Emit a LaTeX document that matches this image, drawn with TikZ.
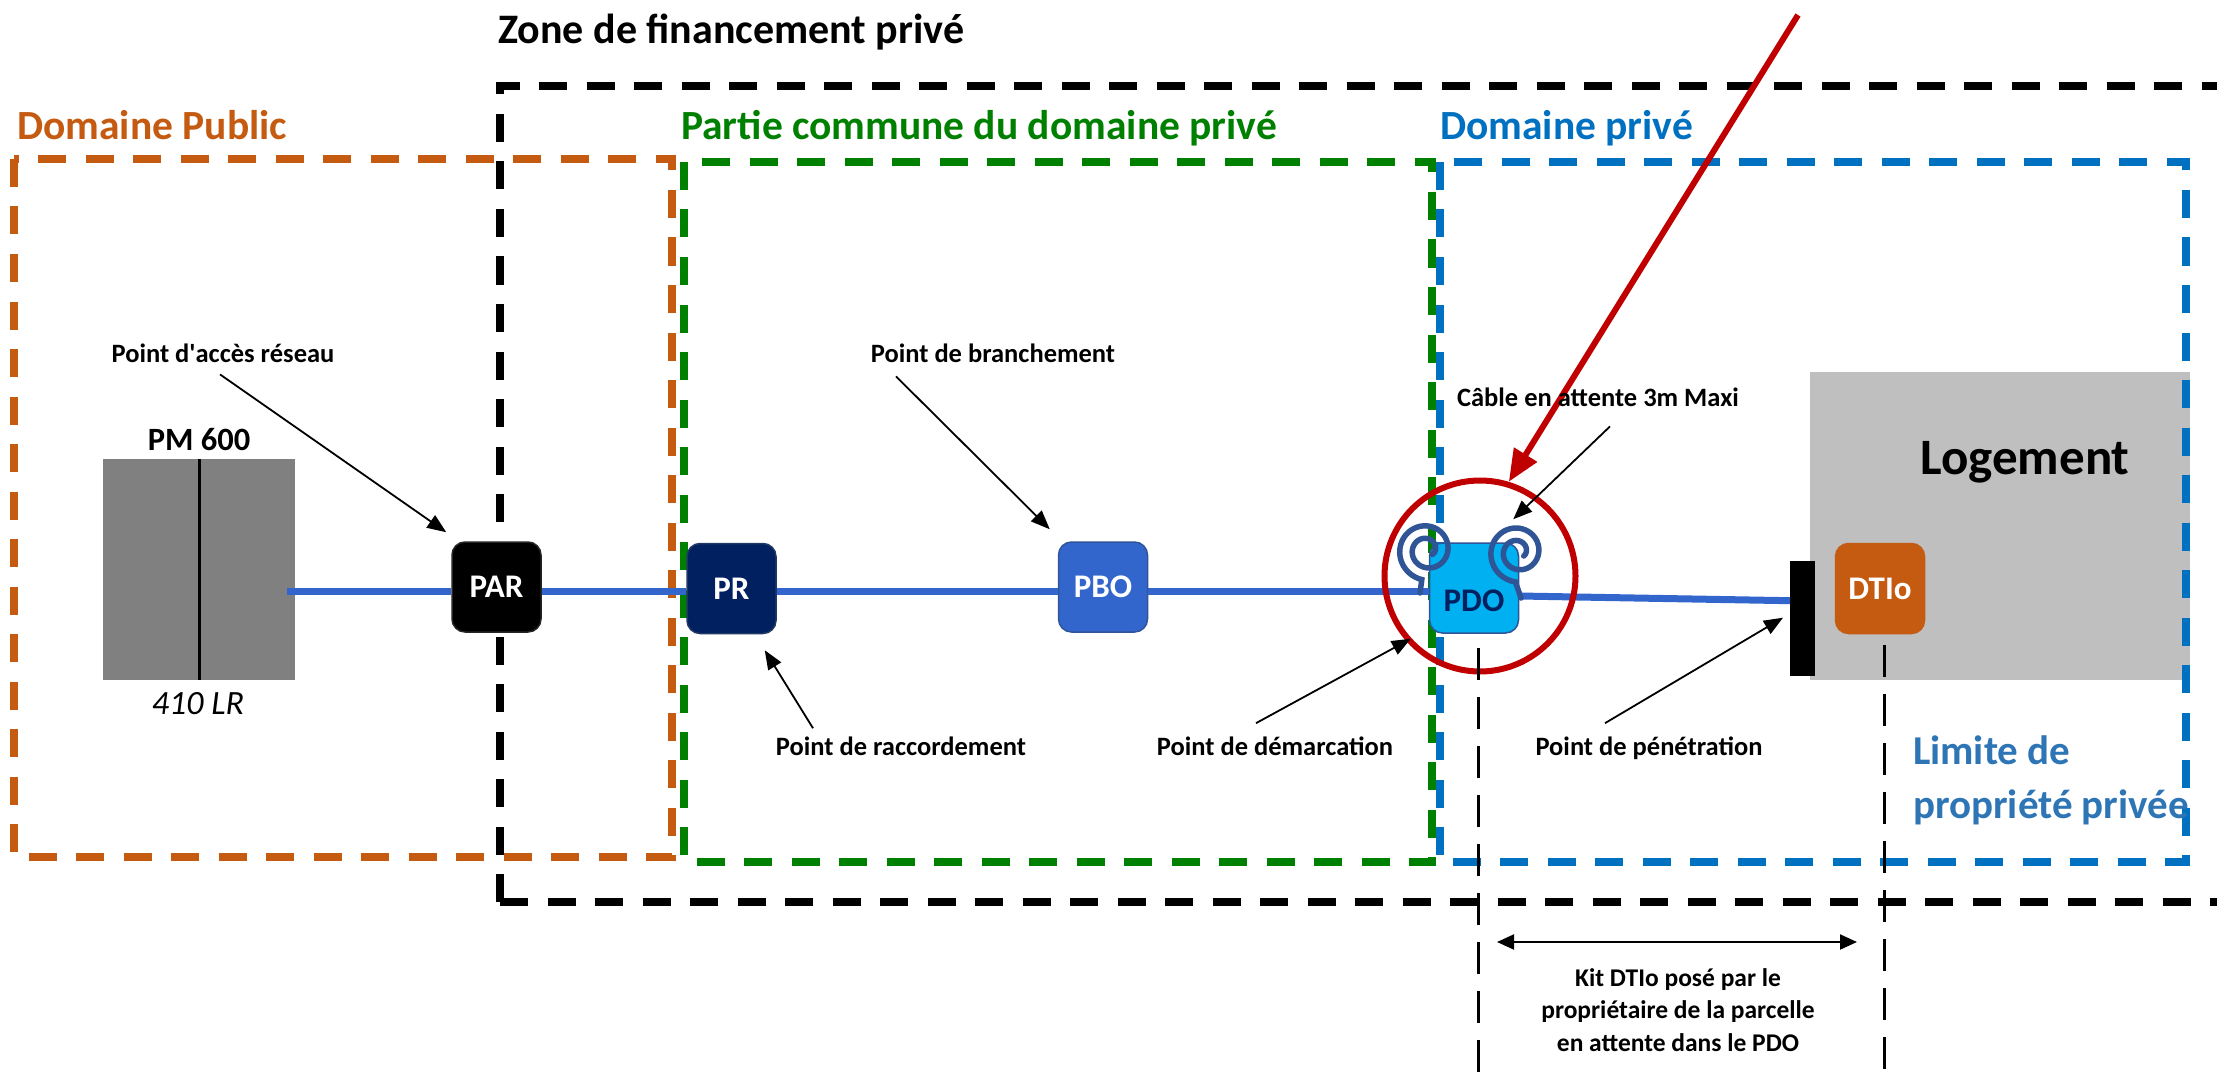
\documentclass[tikz,border=0pt]{standalone}
\usepackage{fontspec}
\setmainfont{Carlito}
\usetikzlibrary{arrows.meta,calc}
\definecolor{orangeC}{HTML}{C55A11}
\definecolor{greenC}{HTML}{008000}
\definecolor{blueC}{HTML}{0070C0}
\definecolor{fiber}{HTML}{3366CC}
\definecolor{navy}{HTML}{002060}
\definecolor{navyd}{HTML}{1F3864}
\definecolor{pdoC}{HTML}{00B0F0}
\definecolor{coil}{HTML}{2F5597}
\definecolor{redC}{HTML}{C00000}
\definecolor{pmgray}{HTML}{808080}
\definecolor{loggray}{HTML}{BFBFBF}
\definecolor{limblue}{HTML}{2E75B6}
\definecolor{dtioC}{HTML}{C55A11}
\newcommand\fsz[2]{\fontsize{#1pt}{#2pt}\selectfont}
\begin{document}
\begin{tikzpicture}[x=1pt,y=-1pt,
  zone/.style={line width=8pt, dash pattern=on 28pt off 19.5pt},
  lbl/.style={font=\fsz{26.5}{31}\bfseries, inner sep=0pt, anchor=base},
  big/.style={font=\fsz{42}{50}\bfseries, inner sep=0pt, anchor=base west},
  zlab/.style={font=\fsz{41.5}{48}\bfseries, inner sep=0pt, anchor=base west},
  tag/.style={rounded corners=13pt, minimum width=89pt, minimum height=90pt, inner sep=0pt, text=white, font=\fsz{33}{38}\bfseries, line width=1.5pt},
  ptr/.style={line width=1.8pt, -{Triangle[length=19pt,width=15pt]}},
  fib/.style={draw=fiber, line width=7pt},
  vdash/.style={line width=3pt, dash pattern=on 32pt off 17pt},
  coilstyle/.style={draw=coil, line width=5.5pt, line cap=round}]
\useasboundingbox (0,0) rectangle (2217,1078);
\clip (0,0) rectangle (2217,1078);
\fill[white] (0,0) rectangle (2217,1078);

% Logement block (under the zones)
\node[fill=loggray, minimum width=380pt, minimum height=308pt, inner sep=0pt, anchor=north west] (logement) at (1810,372) {};
\node[font=\fsz{51}{60}\bfseries, inner sep=0pt, anchor=base] (logtxt) at (2025,474) {Logement};

% zones
\draw[zone, orangeC] (14,159) rectangle (672,857);
\draw[zone, greenC] (684,162) rectangle (1432,862);
\draw[zone, blueC] (1440,162) rectangle (2186,862);
\draw[zone, black] (500,902) -- (500,86) -- (2240,86);
\draw[zone, black] (500,902) -- (2240,902);

% zone titles
\node[big] (ztitle) at (498,44) {Zone de financement privé};
\node[zlab, text=orangeC] (dpub) at (17,140) {Domaine Public};
\node[zlab, text=greenC] (pcom) at (681,140) {Partie commune du domaine privé};
\node[zlab, text=blueC] (dpriv) at (1440,140) {Domaine privé};

% PM
\node[fill=pmgray, minimum width=192pt, minimum height=221pt, inner sep=0pt, anchor=north west] (pm) at (103,459) {};
\draw[line width=3pt] (pm.north) -- (pm.south);
\node[font=\fsz{32.5}{38}\bfseries, inner sep=0pt, anchor=base] (pmlabel) at (199,450) {PM 600};
\node[font=\fsz{34}{40}\itshape, inner sep=0pt, anchor=base] (lr) at (198,714) {410 LR};

% boxes
\node[tag, fill=black, draw=black!85] (par) at (496.5,587) {PAR};
\node[tag, fill=navy, draw=navyd] (pr) at (731.5,588.5) {PR};
\node[tag, fill=fiber, draw=coil] (pbo) at (1103,587) {PBO};
\node[tag, fill=pdoC, draw=coil] (pdo) at (1474,588) {};
\node[font=\fsz{33}{38}\bfseries, text=navy, inner sep=0pt] (pdotxt) at (1474,601) {PDO};
\node[tag, fill=dtioC, draw=dtioC] (dtio) at (1880,588.5) {DTIo};
\node[fill=black, minimum width=25pt, minimum height=115pt, inner sep=0pt, anchor=north west] (bar) at (1790,561) {};

% fibre
\coordinate (fstart) at (287,591);
\draw[fib] (fstart) -- (fstart -| par.west);
\draw[fib] (par.east |- fstart) -- (pr.west |- fstart);
\draw[fib] (pr.east |- fstart) -- (pbo.west |- fstart);
\draw[fib] (pbo.east |- fstart) -- (pdo.west |- fstart);
\draw[fib] ($(pdo.east)+(0,8)$) -- ($(bar.west)+(0,-18)$);

% coils
\draw[coilstyle] (1420,593) -- plot[domain=100:760, samples=160, smooth, variable=\t]
  ({1427+(30-23*(\t-100)/660)*cos(\t)}, {550+(30-23*(\t-100)/660)*sin(\t)});
\draw[coilstyle] (1521,598) -- plot[domain=95:755, samples=160, smooth, variable=\t]
  ({1518+(30-23*(\t-95)/660)*cos(\t)}, {552+(30-23*(\t-95)/660)*sin(\t)});

% red ring and arrow
\node[circle, draw=redC, line width=6pt, minimum size=191pt, inner sep=0pt] (ring) at (1480,576) {};
\coordinate (rtail) at (1798,15);
\draw[redC, line width=6pt, -{Triangle[length=32pt,width=26pt]}] (rtail) -- (ring.73);

% labels and pointers
\node[lbl] (lab1) at (223,362) {Point d\textquotesingle accès réseau};
\draw[ptr] ($(lab1.south)+(-3,12)$) -- ($(par.north west)+(-5,-9)$);
\node[lbl] (lab2) at (993,362) {Point de branchement};
\draw[ptr] ($(lab2.south)+(-97,14)$) -- ($(pbo.north west)+(-8,-12)$);
\node[lbl] (lab3) at (901,755) {Point de raccordement};
\draw[ptr] ($(lab3.north)+(-88,-8)$) -- ($(pr.south east)+(-12,16)$);
\node[lbl] (lab4) at (1275,755) {Point de démarcation};
\draw[ptr] ($(lab4.north)+(-19,-13)$) -- ($(pdo.south west)+(-18,5)$);
\node[lbl] (lab5) at (1649,755) {Point de pénétration};
\draw[ptr] ($(lab5.north)+(-44,-13)$) -- ($(bar.west)+(-7,-1)$);
\node[lbl] (lab6) at (1598,406) {Câble en attente 3m Maxi};
\draw[ptr] ($(lab6.south)+(12,20)$) -- ($(pdo.north east)+(-6,-23)$);

% limit text
\node[font=\fsz{41}{48}\bfseries, text=limblue, inner sep=0pt, anchor=base west] (lim1) at (1913,764) {Limite de};
\node[font=\fsz{41}{48}\bfseries, text=limblue, inner sep=0pt, anchor=base west] (lim2) at (1913,818) {propriété privée};

% vertical dashed guides and kit
\coordinate (v1a) at (1478,648);
\coordinate (v1b) at (1478,1090);
\coordinate (v2a) at (1884,645);
\coordinate (v2b) at (1884,1090);
\draw[vdash] (v1a) -- (v1b);
\draw[vdash] (v2a) -- (v2b);
\coordinate (k1) at (1497,942);
\coordinate (k2) at (1857,942);
\draw[line width=2pt, {Triangle[length=17pt,width=15pt]}-{Triangle[length=17pt,width=15pt]}] (k1) -- (k2);
\node[font=\fsz{25.5}{32.5}\bfseries, align=center, inner sep=0pt] (kit) at (1678,1010) {Kit DTIo posé par le\\propriétaire de la parcelle\\en attente dans le PDO};
\end{tikzpicture}
\end{document}
